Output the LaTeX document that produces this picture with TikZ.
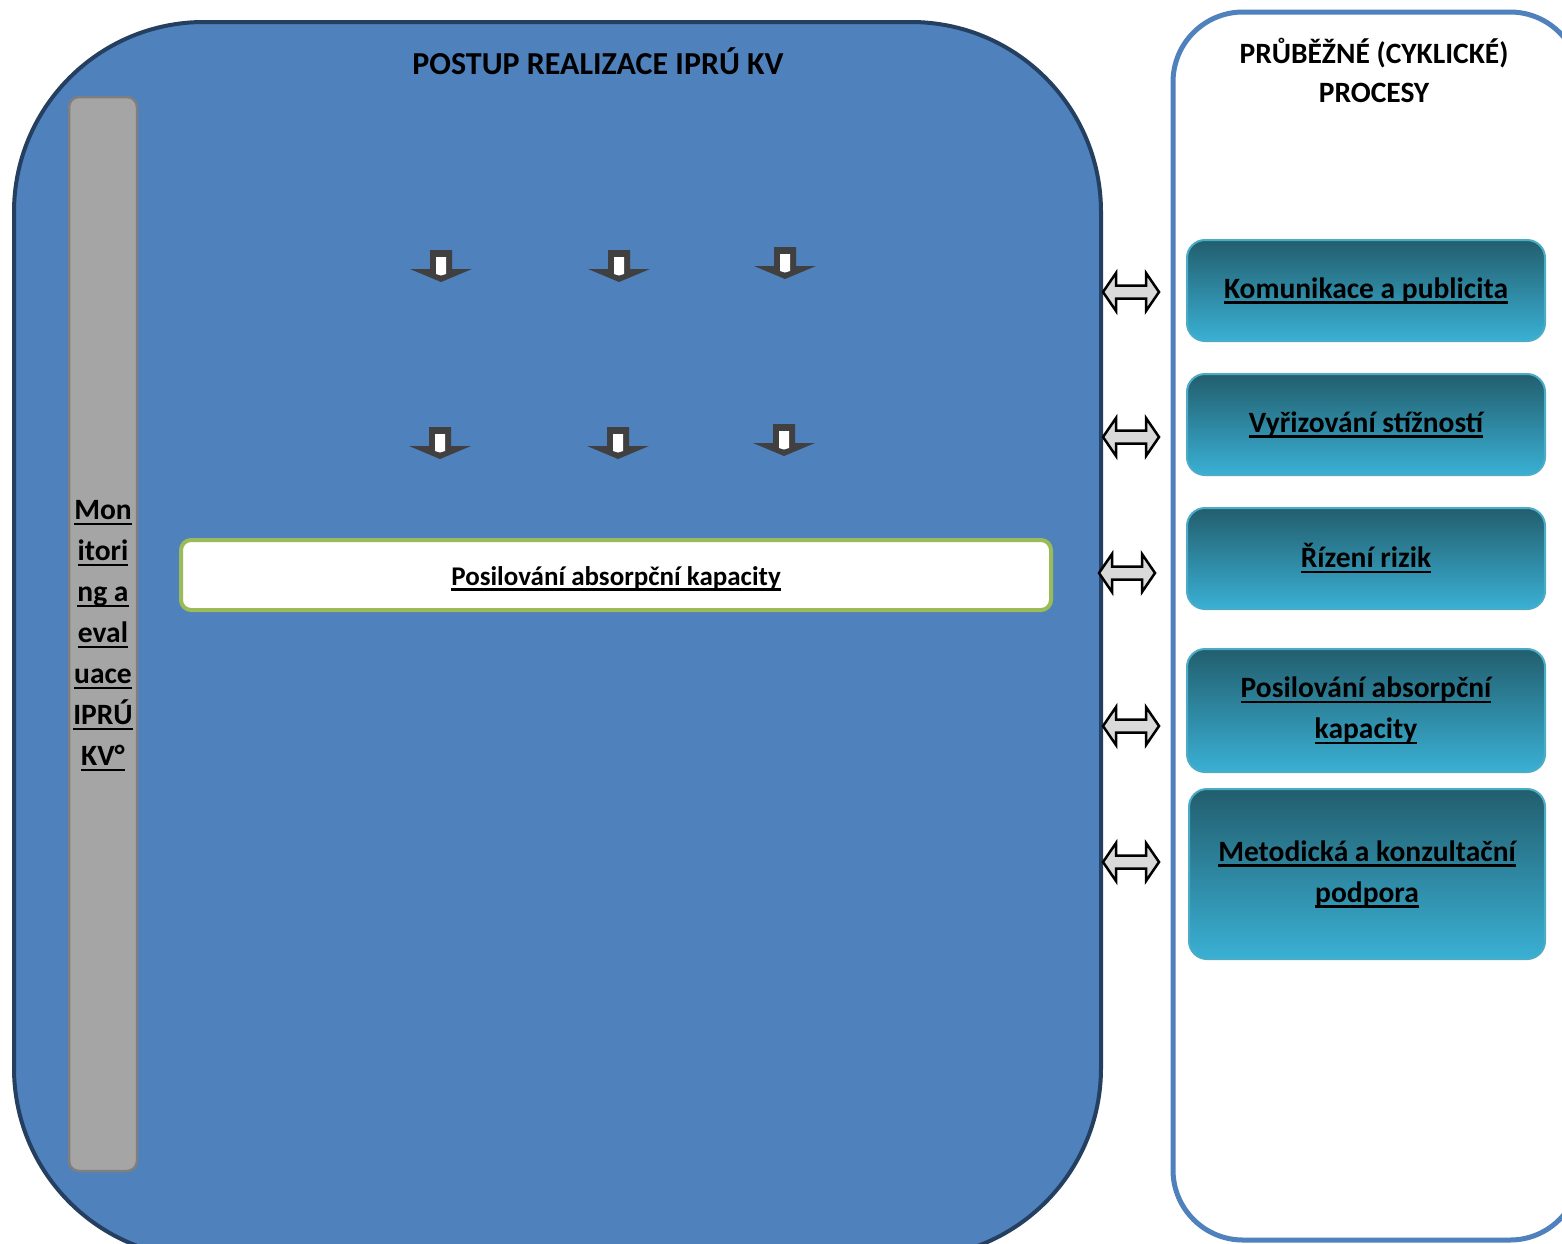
\documentclass[tikz,border=0pt]{standalone}
\usepackage{fontspec}
\setmainfont{Carlito}
\definecolor{mainblue}{HTML}{4F81BD}
\definecolor{darkblue}{HTML}{243F60}
\definecolor{barfill}{HTML}{A5A5A5}
\definecolor{bardraw}{HTML}{7F7F7F}
\definecolor{tealtop}{HTML}{225E6E}
\definecolor{tealbot}{HTML}{3AB0D4}
\definecolor{tealdraw}{HTML}{4BACC6}
\definecolor{greenline}{HTML}{9BBB59}
\definecolor{arrowdark}{HTML}{404040}
\definecolor{arrowgray}{HTML}{D9D9D9}
\newcommand\myul[1]{\setbox0\hbox{#1}\rlap{\rule[-5.5pt]{\wd0}{2.4pt}}\box0}
\tikzset{
  mainframe/.style={fill=mainblue, draw=darkblue, line width=4pt, rounded corners=190pt},
  sidebar/.style={fill=barfill, draw=bardraw, line width=2.5pt, rounded corners=10pt},
  sideframe/.style={fill=white, draw=mainblue, line width=5pt, rounded corners=70pt},
  tealbox/.style={rectangle, rounded corners=18pt, top color=tealtop, bottom color=tealbot,
    draw=tealdraw, line width=2pt, align=center, font=\bfseries\fontsize{29.5}{41}\selectfont,
    inner sep=0pt},
  whitebox/.style={rectangle, rounded corners=10pt, fill=white, draw=greenline, line width=4pt,
    inner sep=0pt},
  whitetext/.style={font=\bfseries\fontsize{27}{32}\selectfont, inner sep=0pt},
  titletext/.style={font=\bfseries\fontsize{32}{42}\selectfont, align=center, inner sep=0pt},
  downarr/.pic={
    \fill[arrowdark] (-11,0) -- (11,0) -- (11,19) -- (31,19) -- (0,32) -- (-31,19) -- (-11,19) -- cycle;
    \fill[white] (-5,7) -- (5,7) -- (5,24) -- (0,25.5) -- (-5,24) -- cycle;
  },
  dblarr/.pic={
    \draw[fill=arrowgray, draw=black, line width=2.5pt, line join=miter]
      (-28,0) -- (-15,-19) -- (-15,-6.5) -- (15,-6.5) -- (15,-19) -- (28,0)
      -- (15,19) -- (15,6.5) -- (-15,6.5) -- (-15,19) -- cycle;
  }
}
\begin{document}
\begin{tikzpicture}[x=1pt,y=-1pt]
\useasboundingbox (0,0) rectangle (1562,1243);
\clip (0,0) rectangle (1562,1243);
\fill[white] (0,0) rectangle (1562,1243);
% main frame
\draw[mainframe] (14,22) rectangle (1101,1258);
\draw[sidebar] (69,97) rectangle (137,1171);
\node[titletext] (maintitle) at (598,61) {POSTUP REALIZACE IPRÚ KV};
\node[font=\bfseries\fontsize{29.5}{41}\selectfont, align=center, inner sep=0pt] (mon) at (103,636)
  {\myul{Mon}\\\myul{itori}\\\myul{ng a}\\\myul{eval}\\\myul{uace}\\\myul{IPRÚ}\\\myul{KV°}};
% down arrows
\pic at (441,250) {downarr};
\pic at (619,250) {downarr};
\pic at (785,247) {downarr};
\pic at (440,427) {downarr};
\pic at (618,427) {downarr};
\pic at (784,424) {downarr};
% white box
\node[whitebox, minimum width=870, minimum height=70] (abs) at (616,575) {};
\node[whitetext] (abstext) at (616,578.5) {\myul{Posilování absorpční kapacity}};
% side frame
\draw[sideframe] (1173,12) rectangle (1580,1240);
\node[titletext, font=\bfseries\fontsize{29.5}{42}\selectfont] (sidetitle) at (1374,70) {PRŮBĚŽNÉ (CYKLICKÉ)\\[-3pt]PROCESY};
\node[tealbox, minimum width=358, minimum height=101] (kom) at (1366,290.5) {\myul{Komunikace a publicita}};
\node[tealbox, minimum width=358, minimum height=101] (vyr) at (1366,424.5) {\myul{Vyřizování stížností}};
\node[tealbox, minimum width=358, minimum height=101] (riz) at (1366,558.5) {\myul{Řízení rizik}};
\node[tealbox, minimum width=358, minimum height=123] (pos) at (1366,710.5) {\myul{Posilování absorpční}\\\myul{kapacity}};
\node[tealbox, minimum width=356, minimum height=170] (met) at (1367,874) {\myul{Metodická a konzultační}\\\myul{podpora}};
% double arrows
\pic at (1131,292) {dblarr};
\pic at (1131,437) {dblarr};
\pic at (1127,573) {dblarr};
\pic at (1131,726) {dblarr};
\pic at (1131,862) {dblarr};
\end{tikzpicture}
\end{document}
